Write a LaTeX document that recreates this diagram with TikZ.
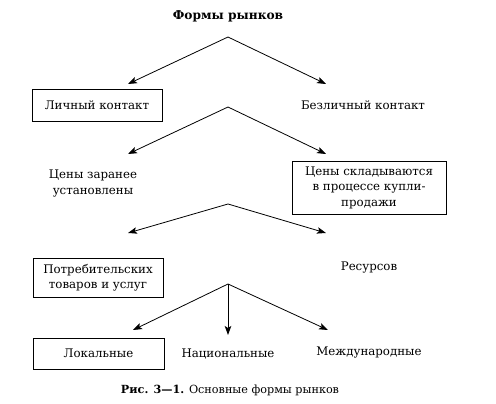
\documentclass[tikz,border=0pt]{standalone}
\usepackage{fontspec}
\setmainfont{DejaVu Serif}
\usetikzlibrary{arrows.meta}
\begin{document}
\begin{tikzpicture}[x=1pt,y=-1pt,
  lbl/.style={font=\fontsize{11.8}{15.5}\selectfont, align=center, inner sep=0pt},
  boxed/.style={lbl, draw, line width=0.9pt, minimum width=#1},
  arr/.style={line width=0.8pt, -{Stealth[length=9pt,width=6.5pt,inset=2pt]}}]
\useasboundingbox (0,0) rectangle (496,404);
\node[lbl, font=\fontsize{12.2}{14}\selectfont\bfseries] (title) at (228,16) {Формы рынков};
% level 1
\coordinate (a1) at (228,37);
\coordinate (a1l) at (128,84);
\coordinate (a1r) at (326,84);
\draw[arr] (a1) -- (a1l);
\draw[arr] (a1) -- (a1r);
\node[boxed=130pt, minimum height=32pt] (personal) at (97,105) {Личный контакт};
\node[lbl] (impersonal) at (363,105) {Безличный контакт};
% level 2
\coordinate (a2) at (228,107);
\coordinate (a2l) at (128,154);
\coordinate (a2r) at (326,154);
\draw[arr] (a2) -- (a2l);
\draw[arr] (a2) -- (a2r);
\node[lbl] (fixed) at (93,183.5) {Цены заранее\\установлены};
\node[boxed=154pt, minimum height=53pt] (bargain) at (369,187.5) {Цены складываются\\в процессе купли-\\продажи};
% level 3
\coordinate (a3) at (228,204);
\coordinate (a3l) at (128,233);
\coordinate (a3r) at (326,233);
\draw[arr] (a3) -- (a3l);
\draw[arr] (a3) -- (a3r);
\node[boxed=130pt, minimum height=39pt] (consumer) at (98,277.5) {Потребительских\\товаров и услуг};
\node[lbl] (resources) at (369,268) {Ресурсов};
% level 4
\coordinate (a4) at (228,284);
\coordinate (a4l) at (133,330);
\coordinate (a4m) at (228,335);
\coordinate (a4r) at (328,330);
\draw[arr] (a4) -- (a4l);
\draw[arr] (a4) -- (a4m);
\draw[arr] (a4) -- (a4r);
\node[boxed=131pt, minimum height=31pt] (local) at (98.5,353.5) {Локальные};
\node[lbl] (national) at (228,354) {Национальные};
\node[lbl] (intl) at (369,353) {Международные};
% caption
\node[lbl, font=\fontsize{11.2}{13}\selectfont] (caption) at (230,390) {\textbf{Рис. 3—1.} Основные формы рынков};
\end{tikzpicture}
\end{document}
